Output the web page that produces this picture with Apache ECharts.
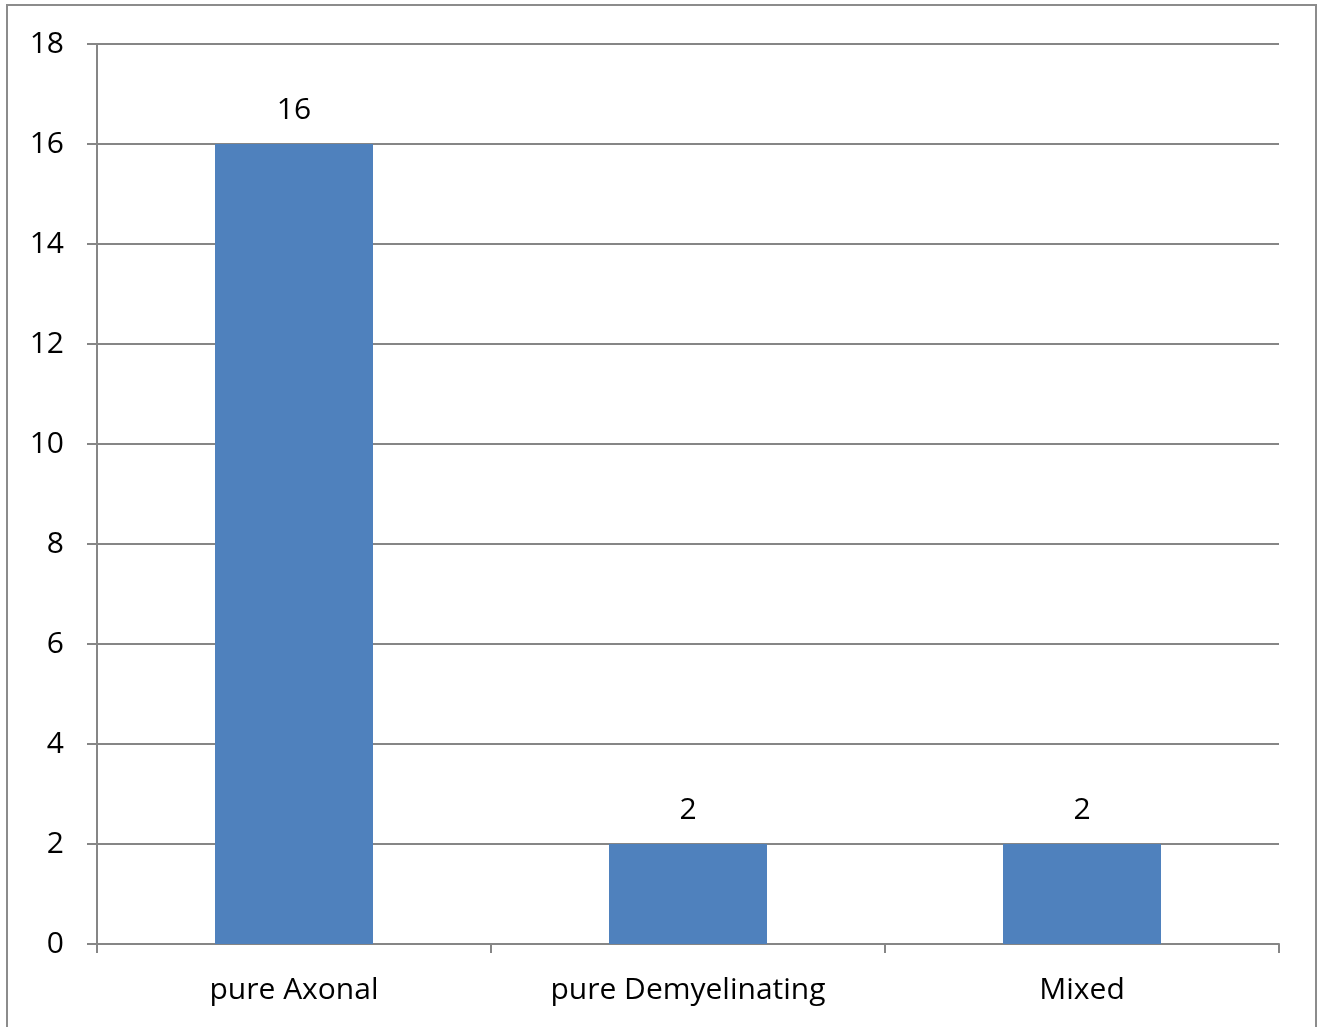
<!DOCTYPE html>
<html>
<head>
<meta charset="utf-8">
<script src="https://cdn.jsdelivr.net/npm/echarts@6/dist/echarts.min.js"></script>
<style>
  html, body { margin: 0; padding: 0; background: #ffffff; }
  #chart { width: 1318px; height: 1027px; }
</style>
</head>
<body>
<div id="chart"></div>
<script>
// Neuropathy pattern counts
const categories = ['pure Axonal', 'pure Demyelinating', 'Mixed'];
const counts = [16, 2, 2];

const FONT = '"Open Sans", "Noto Sans", sans-serif';
const GRAY = '#868686';

const chart = echarts.init(document.getElementById('chart'), null, { renderer: 'canvas' });

chart.setOption({
  animation: false,
  backgroundColor: '#ffffff',
  graphic: [{
    type: 'rect',
    shape: { x: 7, y: 5, width: 1309, height: 1030 },
    style: { fill: 'none', stroke: '#8c8c8c', lineWidth: 2 },
    silent: true
  }],
  grid: { left: 97, right: 39, top: 44, bottom: 83, containLabel: false },
  xAxis: {
    type: 'category',
    data: categories,
    axisLine: { show: true, lineStyle: { color: GRAY, width: 2 } },
    axisTick: { show: true, alignWithLabel: false, length: 9, lineStyle: { color: GRAY, width: 2 } },
    axisLabel: { color: '#000', fontFamily: FONT, fontSize: 30, margin: 31 }
  },
  yAxis: {
    type: 'value',
    min: 0, max: 18, interval: 2,
    axisLine: { show: true, lineStyle: { color: GRAY, width: 2 } },
    axisTick: { show: true, length: 10, lineStyle: { color: GRAY, width: 2 } },
    axisLabel: { color: '#000', fontFamily: FONT, fontSize: 30, margin: 33 },
    splitLine: { show: true, lineStyle: { color: GRAY, width: 2 } }
  },
  series: [{
    type: 'bar',
    data: counts,
    barWidth: 158,
    itemStyle: { color: '#4F81BD' },
    label: {
      show: true, position: 'top', distance: 19,
      color: '#000', fontFamily: FONT, fontSize: 30
    }
  }]
});
</script>
</body>
</html>
